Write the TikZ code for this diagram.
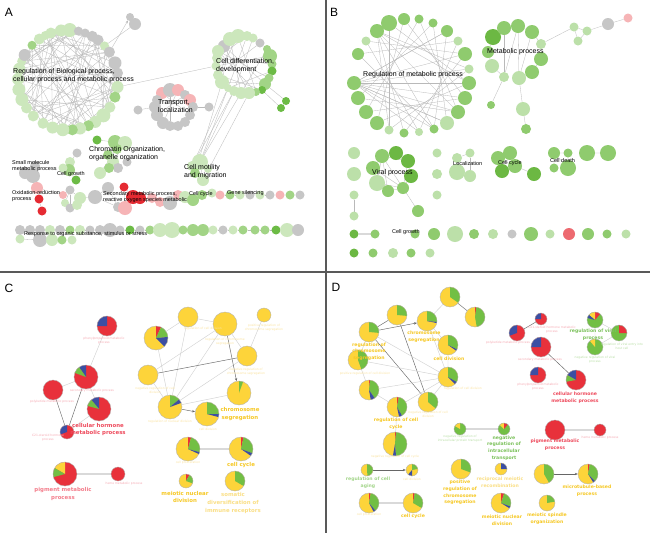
\documentclass[tikz,border=0pt]{standalone}
\usepackage{fontspec}
\setmainfont{Liberation Sans}
\newfontfamily\lblfont{DejaVu Sans}
\usetikzlibrary{arrows.meta}
\pgfdeclarelayer{bg}
\pgfsetlayers{bg,main}
\definecolor{cY}{HTML}{FDD43A}
\definecolor{cR}{HTML}{E8313B}
\definecolor{cG}{HTML}{72BF44}
\definecolor{cB}{HTML}{3C4FA3}
\definecolor{gLt}{HTML}{CCE7BC}
\definecolor{gMd}{HTML}{A2D486}
\definecolor{gDk}{HTML}{6CBB45}
\definecolor{gry}{HTML}{C6C6C6}
\definecolor{pnk}{HTML}{F6B4B6}
\definecolor{rd}{HTML}{E52A32}
\definecolor{bLt}{HTML}{BCE0A9}
\definecolor{bMd}{HTML}{8FCB6E}
\definecolor{bDk}{HTML}{6CB843}
\definecolor{tRed}{HTML}{EE4A5C}
\definecolor{tPink}{HTML}{F47D8B}
\definecolor{tYel}{HTML}{F6C823}
\definecolor{tYlt}{HTML}{FADF85}
\definecolor{tGrn}{HTML}{7BC15A}
\definecolor{tGlt}{HTML}{A3D58A}
\definecolor{fRed}{HTML}{F6A9B2}
\definecolor{fYel}{HTML}{FBE3A0}
\definecolor{fGrn}{HTML}{B8DFA5}
\newcommand\pien[5]{%
  \node[circle,inner sep=0pt,minimum size={2*#4pt}] (#1) at (#2,#3) {};
  \foreach \s/\e/\pc in {#5}{\fill[\pc] (#1.center) -- ++(\s:#4pt) arc[start angle=\s,end angle=\e,radius=#4pt] -- cycle;}
  \draw[pieline] (#1.center) circle[radius=#4pt];}
\begin{document}
\begin{tikzpicture}[x=1pt,y=-1pt,
  dot/.style={circle,inner sep=0pt,outer sep=0pt},
  ed/.style={draw=gray!55,line width=0.3pt},
  edl/.style={draw=gray!35,line width=0.45pt},
  edk/.style={draw=black!60,line width=0.45pt},
  edt/.style={draw=gray!30,line width=1.6pt},
  arr/.style={edk,-{Stealth[length=3pt,width=2.4pt]}},
  pieline/.style={draw=gray!60,line width=0.35pt},
  lab/.style={font=\fontsize{7}{8}\selectfont,align=left,anchor=west,inner sep=0pt},
  labs/.style={font=\fontsize{5.5}{6.6}\selectfont,align=left,anchor=west,inner sep=0pt},
  plab/.style={font=\lblfont\bfseries\fontsize{5.4}{7.8}\selectfont,align=center,inner sep=0pt},
  dlab/.style={font=\lblfont\bfseries\fontsize{4.6}{6.6}\selectfont,align=center,inner sep=0pt},
  flab/.style={font=\lblfont\fontsize{3}{3.8}\selectfont,align=center,inner sep=0pt},
  letter/.style={font=\fontsize{12}{14}\selectfont,inner sep=0pt}]
\useasboundingbox (0,0) rectangle (650,539);
\begin{pgfonlayer}{bg}\fill[white] (0,0) rectangle (650,539);\end{pgfonlayer}

% ================= PANEL A =================
\node[letter] (lA) at (9,12) {A};
\coordinate (ac) at (68,80);
\foreach \a/\d/\pc [count=\i] in {110/11/gLt,98/12/gLt,88/14/gLt,78/9/gry,70/9/gry,61/11/gry,53/11/gry,43/9/gLt,34/11/gry,20/13/gry,8/11/gry,-8/12/gLt,-20/11/gMd,-33/11/gLt,-45/14/gLt,-57/12/gLt,-66/11/gMd,-76/12/gLt,-85/11/gMd,-96/13/gLt,-108/12/gLt,-120/11/gLt,-134/11/gLt,-146/11/gLt,-157/13/gLt,-169/13/gLt,179/12/gLt,167/12/gLt,158/9/gLt,150/12/gry,136/9/gMd,125/11/gLt,117/9/gLt}
  {\node[dot,fill=\pc,minimum size=\d pt] (ra\i) at ([shift={(\a:50pt)}]ac) {};}
\foreach \x/\y/\d/\pc [count=\i] in {224/46/12/gry,230/39/14/gLt,238/36/14/gLt,247/36/10/gLt,253/38/9/gLt,260/43/9/gry,267/49/8/gMd,270/56/14/gMd,272/64/9/gMd,272/71/9/gDk,269/78/9/gMd,265/84/12/gMd,262/90/8/gDk,256/92/8/gMd,249/93/12/gLt,241/93/12/gLt,234/91/10/gLt,228/88/8/gLt,222/82/14/gLt,218/75/10/gLt,216/66/9/gLt,217/58/10/gLt,218/51/12/gLt}
  {\node[dot,fill=\pc,minimum size=\d pt] (rb\i) at (\x,\y) {};}
\node[dot,fill=gDk,minimum size=8pt] (nx1) at (286,101) {};
\node[dot,fill=gDk,minimum size=8pt] (nx2) at (281,108) {};
\foreach \x/\y/\d/\pc [count=\i] in {162/93/12/pnk,170/90/14/gry,178/90/12/pnk,185/95/10/gry,190/100/12/pnk,193/107/10/gry,190/115/10/gry,185/122/10/gry,178/126/10/gry,170/126/10/gry,163/123/12/gry,157/115/12/gry,155/107/12/gry,157/100/10/gry,138/110/9/gry,209/107/9/gry}
  {\node[dot,fill=\pc,minimum size=\d pt] (rc\i) at (\x,\y) {};}
\node[dot,fill=gry,minimum size=8pt] (tg1) at (130,17) {};
\node[dot,fill=gry,minimum size=12pt] (tg2) at (135,24) {};
\foreach \x/\y/\d/\pc [count=\i] in {97/140/9/gDk,115/142/14/gMd,125/143/14/gLt,117/149/10/gMd,108/155/10/gMd,113/162/12/gLt,118/168/10/gry,109/168/10/gMd,100/173/12/gLt,127/162/9/gry}
  {\node[dot,fill=\pc,minimum size=\d pt] (ch\i) at (\x,\y) {};}
\foreach \x/\y/\d/\pc [count=\i] in {25/173/12/gry,33/176/14/gry,35/166/10/gry,77/153/9/gry,70/162/10/gLt,69/170/12/gMd,76/180/9/gDk,63/168/9/gLt}
  {\node[dot,fill=\pc,minimum size=\d pt] (sm\i) at (\x,\y) {};}
\foreach \x/\y/\d/\pc [count=\i] in {200/162/16/gLt,192/166/10/gLt,203/180/12/gLt,195/173/10/gMd,208/169/8/gLt}
  {\node[dot,fill=\pc,minimum size=\d pt] (mo\i) at (\x,\y) {};}
\foreach \x/\y/\d/\pc [count=\i] in {37/188/12/pnk,39/199/9/rd,42/211/9/rd,63/195/8/pnk}
  {\node[dot,fill=\pc,minimum size=\d pt] (ox\i) at (\x,\y) {};}
\foreach \x/\y/\d/\pc [count=\i] in {70/190/9/gry,80/198/12/gLt,65/203/8/gLt,70/208/9/gry,77/205/10/gLt}
  {\node[dot,fill=\pc,minimum size=\d pt] (mc\i) at (\x,\y) {};}
\foreach \x/\y/\d/\pc [count=\i] in {95/197/14/gry,108/188/12/gry,118/207/10/gry,125/208/14/pnk,124/187/9/rd,133/197/14/rd,140/198/12/rd,152/198/10/pnk,160/202/10/pnk,170/203/14/gry,178/195/10/pnk,185/197/12/gLt,193/200/12/gMd,202/195/10/gMd,212/193/9/gLt,220/195/9/pnk,230/195/9/gMd,240/195/9/gLt,250/195/9/gry,260/195/9/gLt,270/195/9/gry,280/195/9/pnk,290/195/9/gMd,300/195/9/gry}
  {\node[dot,fill=\pc,minimum size=\d pt] (sr\i) at (\x,\y) {};}
\foreach \x/\d/\pc [count=\i] in {20/10/gry,30/10/gry,40/10/gry,50/10/gLt,60/10/gry,70/9/gMd,80/10/gLt,90/9/gry,100/10/gry,110/14/gry,120/9/gry,130/9/gDk,140/9/gry,150/9/gMd,160/14/gLt,172/16/gLt,183/9/gMd,193/12/gMd,203/12/gMd,213/9/gLt,223/9/gry,233/9/gLt,243/9/gMd,255/9/gMd,265/9/gMd,276/9/gDk,287/14/gLt,298/12/gry}
  {\node[dot,fill=\pc,minimum size=\d pt] (rw\i) at (\x,230) {};}
\foreach \x/\y/\d/\pc [count=\i] in {20/239/9/gLt,40/240/14/gry,52/240/12/gLt,62/240/9/gMd,72/240/9/gLt}
  {\node[dot,fill=\pc,minimum size=\d pt] (rv\i) at (\x,\y) {};}

\begin{pgfonlayer}{bg}
  \foreach \i in {1,...,33}{
    \pgfmathtruncatemacro\j{mod(\i*7+3,33)+1}
    \pgfmathtruncatemacro\k{mod(\i*13+9,33)+1}
    \pgfmathtruncatemacro\m{mod(\i*4+15,33)+1}
    \draw[ed] (ra\i)--(ra\j) (ra\i)--(ra\k) (ra\i)--(ra\m);}
  \foreach \i/\j in {1/12,1/15,2/16,2/19,3/14,4/18,5/17,6/20,8/21,9/22,10/18,11/23,12/19,3/20,7/16,23/14,13/20,4/22}
    \draw[ed] (rb\i)--(rb\j);
  \foreach \i/\j in {16/1,17/1,18/2,19/4,15/3,18/1,17/2}
    \draw[ed] (rb\i)--(mo\j);
  \draw[ed] (rb12)--(nx1) (rb13)--(nx2) (nx1)--(nx2);
  \draw[ed] (ra12)--(rb21);
  \draw[ed,-{Stealth[length=3pt]}] (ra9)--(tg1);
  \draw[ed] (ra8)--(tg2);
  \foreach \i/\j in {13/15,6/16,2/10,1/7,4/12,3/11,14/5}
    \draw[ed] (rc\i)--(rc\j);
  \foreach \i/\j in {1/2,2/4,4/5,5/8,3/6,4/9,6/7,8/9}
    \draw[ed] (ch\i)--(ch\j);
  \foreach \i/\j in {1/2,2/3,1/3,4/5,5/6,6/7,5/8}
    \draw[ed] (sm\i)--(sm\j);
  \foreach \i/\j in {1/2,1/3,1/4,2/4,1/5}
    \draw[ed] (mo\i)--(mo\j);
  \draw[ed] (ox1)--(ox2) (ox2)--(ox3) (ox1)--(ox4) (ox4)--(mc1);
  \foreach \i/\j in {1/2,1/3,2/4,3/4,2/5,1/4}
    \draw[ed] (mc\i)--(mc\j);
  \draw[ed] (mc2)--(sr1);
  \foreach \i/\j in {1/2,2/3,1/3,3/4,4/5,5/6,6/7,7/8,8/9,9/10,10/11,12/13,13/14,14/15,16/17,17/18,20/21}
    \draw[ed] (sr\i)--(sr\j);
  \foreach \i [evaluate=\i as \j using int(\i+1)] in {1,...,27}
    \draw[ed] (rw\i)--(rw\j);
  \draw[ed] (rv1)--(rv2) (rv2)--(rv3) (rv3)--(rv4);
\end{pgfonlayer}

\node[lab] (tA1) at (13,76) {Regulation of Biological process,\\cellular process and metabolic process};
\node[lab] (tA2) at (216,66) {Cell differentiation,\\development};
\node[lab] (tA3) at (158,106) {Transport,\\localization};
\node[lab] (tA4) at (89,154) {Chromatin Organization,\\organelle organization};
\node[labs] (tA5) at (12,166) {Small molecule\\metabolic process};
\node[labs] (tA6) at (57,174) {Cell growth};
\node[lab] (tA7) at (184,172) {Cell motility\\and migration};
\node[labs] (tA8) at (12,196) {Oxidation-reduction\\process};
\node[labs] (tA9) at (103,197) {Secondary metabolic process,\\reactive oxygen species metabolic};
\node[labs] (tA10) at (189,194) {Cell cycle};
\node[labs] (tA11) at (227,193) {Gene silencing};
\node[labs] (tA12) at (24,234) {Response to organic substance, stimulus or stress};

% ================= PANEL B =================
\node[letter] (lB) at (334,12) {B};
\foreach \x/\y/\d/\pc [count=\i] in {377/31/14/bMd,389/23/16/bMd,404/19/12/bMd,419/19/9/bMd,433/23/9/bMd,447/31/12/bMd,458/41/9/bLt,465/54/14/bMd,469/69/9/bLt,469/83/14/bMd,465/98/14/bMd,458/112/14/bMd,447/123/14/bLt,434/129/9/bMd,419/132/8/bLt,404/133/9/bMd,389/130/9/bLt,377/123/14/bMd,366/112/14/bMd,358/98/14/bMd,354/83/14/bMd,358/54/12/bMd,366/41/9/bLt}
  {\node[dot,fill=\pc,minimum size=\d pt] (rB\i) at (\x,\y) {};}
\foreach \x/\y/\d/\pc [count=\i] in {493/37/16/bDk,504/28/14/bMd,518/26/14/bMd,532/32/14/bMd,541/44/10/bLt,488/52/12/bMd,492/66/14/bLt,504/77/10/bLt,519/78/14/bLt,532/72/14/bMd,541/59/14/bMd,491/105/8/bMd,523/109/14/bLt,526/129/10/bMd}
  {\node[dot,fill=\pc,minimum size=\d pt] (m\i) at (\x,\y) {};}
\foreach \x/\y/\d/\pc [count=\i] in {574/27/9/bLt,587/31/9/bLt,578/41/9/bLt,608/24/12/gry,628/18/9/pnk}
  {\node[dot,fill=\pc,minimum size=\d pt] (t\i) at (\x,\y) {};}
\foreach \x/\y/\d/\pc [count=\i] in {354/153/12/bLt,354/174/14/bLt,354/195/9/bLt,354/216/9/bLt}
  {\node[dot,fill=\pc,minimum size=\d pt] (c\i) at (\x,\y) {};}
\foreach \x/\y/\d/\pc [count=\i] in {382/156/14/bMd,396/153/14/bDk,408/161/14/bDk,373/168/14/bMd,411/176/14/bDk,377/183/16/bLt,388/191/12/bMd,403/188/12/bMd,418/211/12/bMd}
  {\node[dot,fill=\pc,minimum size=\d pt] (v\i) at (\x,\y) {};}
\foreach \x/\y/\d/\pc [count=\i] in {437/153/9/bLt,457/158/10/bLt,470/153/9/bLt,457/172/16/bLt,470/176/12/bLt,437/174/10/bLt,437/195/9/bLt}
  {\node[dot,fill=\pc,minimum size=\d pt] (l\i) at (\x,\y) {};}
\foreach \x/\y/\d/\pc [count=\i] in {498/158/14/bMd,510/153/14/bMd,515/166/14/bMd,502/171/14/bDk,534/174/14/bDk}
  {\node[dot,fill=\pc,minimum size=\d pt] (k\i) at (\x,\y) {};}
\foreach \x/\y/\d/\pc [count=\i] in {554/153/12/bMd,568/153/9/bMd,554/168/9/bMd,568/168/16/bMd,587/153/16/bMd,608/153/16/bMd}
  {\node[dot,fill=\pc,minimum size=\d pt] (d\i) at (\x,\y) {};}
\foreach \x/\d/\pc [count=\i] in {354/9/bDk,375/9/bMd,415/9/bMd,434/12/bMd,455/16/bLt,474/10/bMd,493/10/bLt,512/9/gry,531/14/bMd,550/9/bLt,569/12/rd!70!white,588/12/bMd,607/9/bMd,626/9/bLt}
  {\node[dot,fill=\pc,minimum size=\d pt] (g\i) at (\x,234) {};}
\foreach \x/\d/\pc [count=\i] in {354/9/bDk,373/9/bMd,393/10/bLt,411/9/bMd,430/9/bLt}
  {\node[dot,fill=\pc,minimum size=\d pt] (h\i) at (\x,253) {};}

\begin{pgfonlayer}{bg}
  \foreach \i in {1,...,23}{
    \pgfmathtruncatemacro\j{mod(\i+7,23)+1}
    \draw[ed] (rB\i)--(rB\j);}
  \foreach \j in {6,8,9,10,11,12,13,14,15}
    \draw[ed] (rB21)--(rB\j);
  \foreach \j in {12,14,17,10}
    \draw[ed] (rB1)--(rB\j);
  \foreach \i/\j in {2/8,3/9,3/4,4/5,3/8,9/13,13/14,8/12,9/10,10/11,7/8,4/9,2/3,1/6,6/7}
    \draw[ed] (m\i)--(m\j);
  \draw[ed] (m5)--(t1) (t1)--(t2) (t1)--(t3) (t2)--(t3) (t2)--(t4) (t4)--(t5);
  \draw[ed] (c3)--(c4);
  \foreach \i/\j in {1/2,1/3,1/4,1/6,1/7,1/8,2/3,4/6,4/7,4/8,6/7,6/8,3/5,5/8,8/9,7/8,3/8}
    \draw[ed] (v\i)--(v\j);
  \foreach \i/\j in {2/3,2/4,4/5,3/5}
    \draw[ed] (l\i)--(l\j);
  \foreach \i/\j in {1/2,2/3,1/3,3/4,3/5}
    \draw[ed] (k\i)--(k\j);
  \draw[ed] (d1)--(d2) (d1)--(d3) (d1)--(d4) (d2)--(d4) (d5)--(d6);
  \draw[edt] (g1)--(g2);
\end{pgfonlayer}

\node[lab] (tB1) at (363,75) {Regulation of metabolic process};
\node[lab] (tB2) at (487,52) {Metabolic process};
\node[lab] (tB3) at (372,173) {Viral process};
\node[labs] (tB4) at (453,164) {Localization};
\node[labs] (tB5) at (498,163) {Cell cycle};
\node[labs] (tB6) at (550,161) {Cell death};
\node[labs] (tB7) at (392,232) {Cell growth};

% ================= PANEL C =================
\node[letter] (lC) at (9,288) {C};
\node[plab,text=tYel] (tC2) at (240,414) {chromosome\\segregation};
\pien{Ca}{107}{326}{10}{0/360/cR,90/180/cB}
\pien{Cb}{86}{377}{12}{0/360/cR,90/125/cB,125/160/cG}
\pien{Cc}{53}{390}{10}{0/360/cR}
\pien{Cd}{99}{409}{12}{0/360/cR,90/130/cB,130/165/cG}
\pien{Ce}{67}{432}{7}{0/360/cR,90/200/cB}
\pien{Cf}{156}{338}{12}{0/360/cY,90/65/cR,65/5/cG,5/-45/cB}
\pien{Cg}{188}{317}{10}{0/360/cY}
\pien{Cw}{225}{324}{12}{0/360/cY}
\pien{Ch}{264}{315}{7}{0/360/cY}
\pien{Ci}{247}{356}{10}{0/360/cY}
\pien{Cj}{148}{375}{10}{0/360/cY}
\pien{Ck}{239}{393}{12}{0/360/cY,90/70/cG}
\pien{Cl}{170}{407}{12}{0/360/cY,90/40/cG,40/20/cB}
\pien{Cm}{207}{414}{12}{0/360/cY,90/0/cG,0/-15/cB}
\pien{Cn}{188}{449}{12}{0/360/cY,90/75/cR,75/-15/cG,-15/-25/cB}
\pien{Co}{241}{449}{12}{0/360/cY,90/78/cR,78/-20/cG,-20/-35/cB}
\pien{Cp}{186}{481}{7}{0/360/cY,90/60/cR,60/-20/cG}
\pien{Cq}{235}{481}{10}{0/360/cY,90/-30/cG}
\pien{Cr}{65}{474}{12}{0/360/cR,90/150/cY,150/195/cG}
\pien{Cs}{118}{474}{7}{0/360/cR}

\begin{pgfonlayer}{bg}
  \draw[edl] (Ca)--(Cb) (Cb)--(Cc) (Cb)--(Cd) (Cd)--(Ce);
  \draw[edk] (Cc)--(Ce) (Cb)--(Ce);
  \draw[edl] (Cf)--(Cg) (Cg)--(Cw) (Cw)--(Ci) (Ch)--(Ci) (Cw)--(Cj) (Cf)--(Cl) (Cg)--(Cl) (Cw)--(Cl) (Cj)--(Cl) (Ci)--(Cl) (Ck)--(Cl);
  \draw[edk] (Ci)--(Cj);
  \draw[arr] (Cw)--(Ck);
  \draw[arr] (Cl)--(Cm);
  \draw[edt] (Cn)--(Co) (Cr)--(Cs);
\end{pgfonlayer}

\node[flab,text=fRed] (fC4) at (48,438) {C21-steroid hormone\\process};
\node[plab,text=tRed] (tC1) at (98,429.5) {cellular hormone\\metabolic process};
\node[plab,text=tYel] (tC3) at (241,465) {cell cycle};
\node[plab,text=tYel] (tC4) at (185,497) {meiotic nuclear\\division};
\node[plab,text=tYlt] (tC5) at (233,503) {somatic\\diversification of\\immune receptors};
\node[plab,text=tPink] (tC6) at (63,494) {pigment metabolic\\process};
\node[flab,text=fRed] (fC1) at (104,340.5) {phenylpropanoid metabolic\\process};
\node[flab,text=fRed] (fC2) at (92,391) {secondary metabolic process};
\node[flab,text=fRed] (fC3) at (52,402) {polyketide metabolic process};
\node[flab,text=fRed] (fC5) at (124,484) {heme metabolic process};
\node[flab,text=fYel] (fC6) at (203,329) {regulation of cell division};
\node[flab,text=fYel] (fC7) at (264,327.5) {positive regulation of\\chromosome segregation};
\node[flab,text=fYel] (fC8) at (225,341.5) {regulation of chromosome\\segregation};
\node[flab,text=fYel] (fC9) at (246,372) {negative regulation of\\chromosome segregation};
\node[flab,text=fYel] (fC10) at (155,390.5) {negative regulation of cell\\division};
\node[flab,text=fYel] (fC11) at (170,422) {regulation of nuclear division};
\node[flab,text=fYel] (fC12) at (208,429) {cell division};
\node[flab,text=fYel] (fC13) at (188,463) {cell proliferation};

% ================= PANEL D =================
\node[letter] (lD) at (336,287) {D};
\pien{Da}{450}{297}{10}{0/360/cY,90/-35/cG}
\pien{Db}{475}{317}{10}{0/360/cY,90/82/cR,82/-80/cG}
\pien{Dc}{397}{315}{10}{0/360/cY,90/-5/cG}
\pien{Dd}{427}{321}{10}{0/360/cY,90/-5/cG,-5/-12/cB}
\pien{De}{369}{332}{10}{0/360/cY,90/-5/cG}
\pien{Df}{448}{345}{10}{0/360/cY,90/-25/cG,-25/-35/cB}
\pien{Dg}{358}{360}{10}{0/360/cY,90/-70/cG}
\pien{Dh}{448}{377}{10}{0/360/cY,90/-30/cG,-30/-45/cB}
\pien{Di}{369}{390}{10}{0/360/cY,90/84/cR,84/-55/cG,-55/-80/cB}
\pien{Dj}{397}{407}{10}{0/360/cY,90/80/cR,80/-60/cG,-60/-78/cB}
\pien{Dk}{428}{402}{10}{0/360/cY,90/-40/cG}
\pien{Dl}{541}{319}{6}{0/360/cR,90/180/cB}
\pien{Dm}{517}{333}{8}{0/360/cR,90/200/cB}
\pien{Dn}{541}{347}{10}{0/360/cR,90/180/cB}
\pien{Do}{538}{375}{8}{0/360/cR,90/180/cB}
\pien{Dp}{576}{380}{10}{0/360/cR,90/150/cB,150/190/cG}
\pien{Dq}{595}{320}{8}{0/360/cG,90/50/cR,90/140/cY,140/165/cB}
\pien{Dr}{619}{333}{8}{0/360/cG,90/0/cR}
\pien{Ds}{595}{347}{8}{0/360/cG,90/130/cY}
\pien{Du}{395}{444}{12}{0/360/cY,90/85/cR,85/-85/cG,-85/-100/cB}
\pien{Dv}{367}{470}{6}{0/360/cY,90/-85/cG}
\pien{Dw}{412}{470}{6}{0/360/cY,90/10/cG,-90/-130/cB}
\pien{Dx}{460}{429}{6}{0/360/cG,90/150/cY}
\pien{Dy}{504}{429}{6}{0/360/cG,90/135/cY,90/50/cR}
\pien{Dz}{555}{430}{10}{0/360/cR}
\pien{DA}{600}{430}{6}{0/360/cR}
\pien{DB}{461}{469}{10}{0/360/cY,90/-20/cG}
\pien{DC}{501}{469}{6}{0/360/cY,90/0/cB}
\pien{DD}{544}{474}{10}{0/360/cY,90/-60/cG}
\pien{DE}{588}{474}{10}{0/360/cY,90/80/cR,80/-45/cG,-45/-58/cB}
\pien{DF}{369}{503}{10}{0/360/cY,90/80/cR,80/-50/cG,-50/-62/cB}
\pien{DG}{413}{503}{10}{0/360/cY,90/80/cR,80/-30/cG}
\pien{DH}{501}{503}{10}{0/360/cY,90/72/cR,72/-20/cG,-20/-32/cB}
\pien{DI}{547}{503}{8}{0/360/cY,90/10/cG}

\begin{pgfonlayer}{bg}
  \draw[edk] (Da)--(Db) (De)--(Dc) (De)--(Dk) (Dc)--(Dk) (Dm)--(Dl) (Dn)--(Dp);
  \draw[arr] (De)--(Dd);
  \draw[edl] (Da)--(Dd) (De)--(Dh) (Dd)--(Df) (Dd)--(Dh) (Df)--(Dh) (Dg)--(Dh) (Di)--(Dh) (Dj)--(Dh) (Dk)--(Dh) (Dg)--(Di) (Di)--(Dj) (De)--(Dg);
  \draw[edl] (Dq)--(Dr) (Dq)--(Ds) (Dr)--(Ds) (Dj)--(Du);
  \draw[arr] (Dv)--(Dw);
  \draw[arr] (DD)--(DE);
  \draw[edt] (Dx)--(Dy) (Dz)--(DA) (DF)--(DG);
\end{pgfonlayer}

\node[dlab,text=tYel] (tD1) at (369,351.5) {regulation of\\chromosome\\segregation};
\node[dlab,text=tYel] (tD2) at (424,337) {chromosome\\segregation};
\node[dlab,text=tYel] (tD3) at (449,359) {cell division};
\node[dlab,text=tYel] (tD4) at (396,423.5) {regulation of cell\\cycle};
\node[dlab,text=tGrn] (tD5) at (504,448) {negative\\regulation of\\intracellular\\transport};
\node[dlab,text=tRed] (tD6) at (555,445) {pigment metabolic\\process};
\node[dlab,text=tGlt] (tD7) at (368,483) {regulation of cell\\aging};
\node[dlab,text=tYel] (tD8) at (460,492.5) {positive\\regulation of\\chromosome\\segregation};
\node[dlab,text=tYlt] (tD9) at (500,482.5) {reciprocal meiotic\\recombination};
\node[dlab,text=tYel] (tD10) at (587,490.5) {microtubule-based\\process};
\node[dlab,text=tYel] (tD11) at (413,516) {cell cycle};
\node[dlab,text=tYel] (tD12) at (502,520.5) {meiotic nuclear\\division};
\node[dlab,text=tYel] (tD13) at (547,518.5) {meiotic spindle\\organization};
\node[dlab,text=tRed] (tD14) at (575,398) {cellular hormone\\metabolic process};
\node[dlab,text=tGrn] (tD15) at (593,335) {regulation of viral\\process};
\node[flab,text=fRed] (fD1) at (508,343) {polyketide metabolic process};
\node[flab,text=fRed] (fD2) at (552,329.5) {C21-steroid hormone metabolic\\process};
\node[flab,text=fRed] (fD3) at (540,360) {secondary metabolic process};
\node[flab,text=fRed] (fD4) at (538,387) {phenylpropanoid metabolic\\process};
\node[flab,text=fGrn] (fD5) at (595,359.5) {negative regulation of viral\\process};
\node[flab,text=fGrn] (fD17) at (622,346) {regulation of viral entry into\\host cell};
\node[flab,text=fGrn] (fD6) at (460,439) {negative regulation of\\intracellular protein transport};
\node[flab,text=fRed] (fD7) at (600,438) {heme metabolic process};
\node[flab,text=fYel] (fD8) at (395,457) {negative regulation of cell cycle};
\node[flab,text=fYel] (fD9) at (412,479) {cell division};
\node[flab,text=fYel] (fD10) at (369,515) {cell proliferation};
\node[flab,text=fYel] (fD11) at (365,374) {positive regulation of cell division};
\node[flab,text=fYel] (fD12) at (463,389) {regulation of cell division};
\node[flab,text=fYel] (fD14) at (428,414.5) {negative regulation of cell\\division};

% panel dividers
\draw[line width=1.1pt,black!65] (326,0) -- (326,533);
\draw[line width=1.1pt,black!65] (0,272) -- (650,272);
\end{tikzpicture}
\end{document}
